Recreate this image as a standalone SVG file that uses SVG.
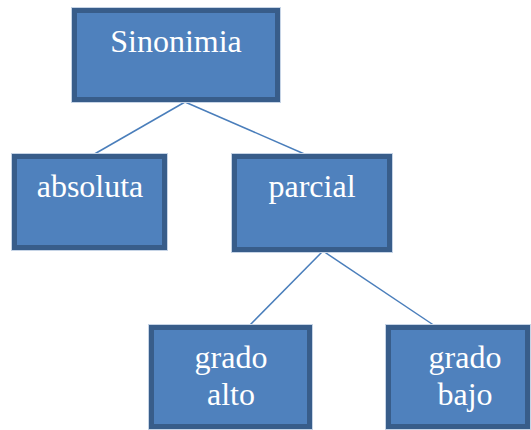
<svg xmlns="http://www.w3.org/2000/svg" width="531" height="430" viewBox="0 0 531 430">
  <style>
    .box { fill: #4f81bd; stroke: #385d8a; stroke-width: 5; }
    .rim { fill: none; stroke: #c6d4e6; stroke-width: 1; }
    .label { font-family: "Liberation Serif", "Times New Roman", serif; font-size: 32px; fill: #ffffff; text-anchor: middle; }
    .link { stroke: #4a7ebb; stroke-width: 1.5; fill: none; }
  </style>
  <rect width="531" height="430" fill="#ffffff"/>
  <g id="connectors">
    <line class="link" x1="185" y1="102" x2="91" y2="156"/>
    <line class="link" x1="185" y1="102" x2="309" y2="156"/>
    <line class="link" x1="323" y1="251" x2="249" y2="326"/>
    <line class="link" x1="323" y1="251" x2="435" y2="326"/>
  </g>
  <g id="sinonimia">
    <rect class="rim" x="71.5" y="7.5" width="209" height="95"/>
    <rect class="box" x="74.5" y="10.5" width="203" height="89"/>
    <text class="label" x="176" y="52">Sinonimia</text>
  </g>
  <g id="absoluta">
    <rect class="rim" x="11.5" y="153.5" width="156" height="97"/>
    <rect class="box" x="14.5" y="156.5" width="150" height="91"/>
    <text class="label" x="90" y="197">absoluta</text>
  </g>
  <g id="parcial">
    <rect class="rim" x="231.5" y="153.5" width="161" height="99"/>
    <rect class="box" x="234.5" y="156.5" width="155" height="93"/>
    <text class="label" x="312" y="197">parcial</text>
  </g>
  <g id="grado-alto">
    <rect class="rim" x="148.5" y="324.5" width="164" height="105"/>
    <rect class="box" x="151.5" y="327.5" width="158" height="99"/>
    <text class="label" x="231" y="368">grado</text>
    <text class="label" x="231" y="405">alto</text>
  </g>
  <g id="grado-bajo">
    <rect class="rim" x="385.5" y="324.5" width="145" height="105"/>
    <rect class="box" x="388.5" y="327.5" width="139" height="99"/>
    <text class="label" x="465" y="368">grado</text>
    <text class="label" x="465" y="405">bajo</text>
  </g>
</svg>
